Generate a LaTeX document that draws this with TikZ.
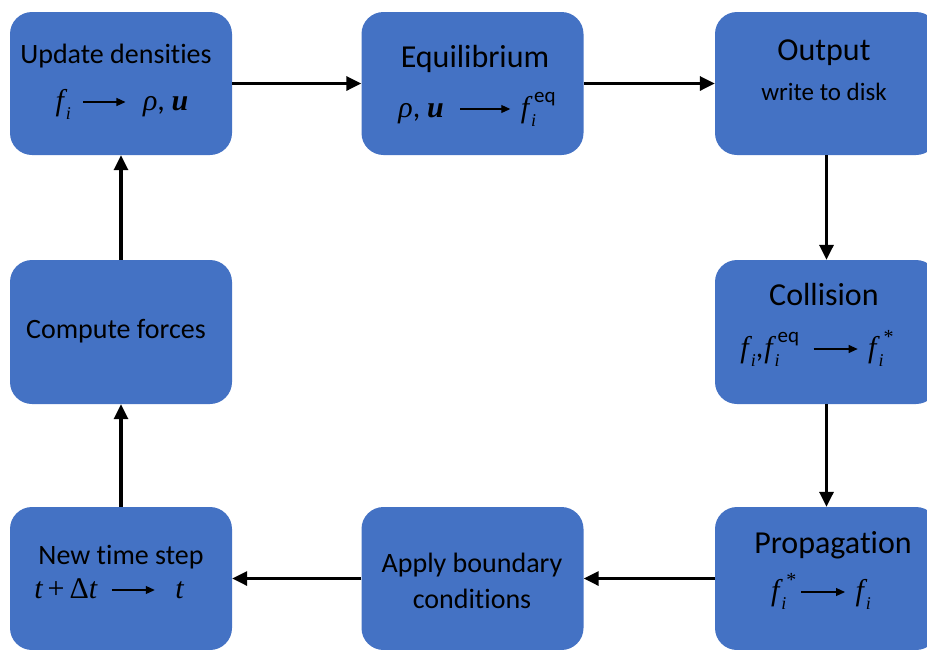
\documentclass[tikz,border=0pt]{standalone}
\usepackage{fontspec}
\setmainfont[Ligatures=NoCommon]{Carlito}
\newfontfamily\tms{Liberation Serif}
\usetikzlibrary{arrows.meta}
\definecolor{boxblue}{HTML}{4472C4}
\newcommand{\fsb}[1]{{\tms\itshape f\kern2pt\raisebox{-0.3em}{\fontsize{18}{18}\selectfont #1}}}
\newcommand{\feq}[1]{{\tms\itshape f\kern2pt\rlap{\raisebox{-0.3em}{\fontsize{18}{18}\selectfont i}}\kern3pt\raisebox{0.5em}{\rmfamily\upshape\fontsize{21}{21}\selectfont #1}}}
\newcommand{\fst}{{\tms\itshape f\kern2pt\rlap{\raisebox{-0.3em}{\fontsize{18}{18}\selectfont i}}\kern5pt\raisebox{0.45em}{\upshape\fontsize{20}{20}\selectfont *}}}
\newcommand{\marr}[1]{\tikz[baseline={(0pt,-8pt)}]\draw[line width=1.1pt,-{Triangle[length=9pt,width=8pt]}] (0pt,0pt)--(#1,0pt);}
\newcommand{\bu}{{\tms\bfseries\itshape u}}
\newcommand{\rh}{{\tms\itshape ρ}}
\begin{document}
\begin{tikzpicture}[x=1pt,y=-1pt,
  box/.style={fill=boxblue,rounded corners=22pt,minimum width=222pt,minimum height=143pt,inner sep=0pt},
  ttl/.style={anchor=base,inner sep=0pt,font=\fontsize{32}{36}\selectfont},
  sttl/.style={anchor=base,inner sep=0pt,font=\fontsize{28}{31}\selectfont},
  mth/.style={anchor=base,inner sep=0pt,font=\fontsize{30}{33}\selectfont},
  flow/.style={line width=3.2pt,-{Triangle[length=15pt,width=14pt]}}]
\useasboundingbox (0,0) rectangle (927,649);
\clip (0,0) rectangle (927,649);
\node[box] (tl) at (121,83.5) {};
\node[box] (tm) at (472.5,83.5) {};
\node[box,minimum width=223pt] (tr) at (826.5,83.5) {};
\node[box,minimum height=144pt] (ml) at (121,332) {};
\node[box,minimum width=223pt,minimum height=144pt] (mr) at (826.5,332) {};
\node[box] (bl) at (121,578.5) {};
\node[box] (bm) at (472.5,578.5) {};
\node[box,minimum width=223pt] (br) at (826.5,578.5) {};
% texts
\node[sttl] (t1) at (116,63) {Update densities};
\node[mth] (m1) at (122,110) {\fsb{i}\hspace{12pt}\marr{42pt}\hspace{17pt}\rh, \bu};
\node[ttl] (t2) at (475,67) {Equilibrium};
\node[mth] (m2) at (477,117) {\rh, \bu\hspace{16pt}\marr{50pt}\hspace{10pt}\feq{eq}};
\node[ttl] (t3) at (824,60) {Output};
\node[font=\fontsize{25}{28}\selectfont,anchor=base,inner sep=0pt] (s3) at (824,100) {write to disk};
\node[ttl] (t4) at (824,305) {Collision};
\node[mth] (m4) at (817,357) {\fsb{i},\kern1pt\feq{eq}\hspace{14pt}\marr{44pt}\hspace{10pt}\fst};
\node[sttl] (t5) at (116,338) {Compute forces};
\node[sttl] (t6) at (121,564) {New time step};
\node[mth] (m6) at (109,598) {{\tms\itshape t}\,{\tms +}\,{\tms Δ\itshape t}\hspace{14pt}\marr{43pt}\hspace{20pt}{\tms\itshape t}};
\node[sttl] (t7) at (472,572) {Apply boundary};
\node[sttl] (t7b) at (472,608) {conditions};
\node[ttl] (t8) at (833,553) {Propagation};
\node[mth] (m8) at (821,600) {\fst\hspace{4pt}\marr{44pt}\hspace{10pt}\fsb{i}};
% flow
\draw[flow] (tl.east) -- (tm.west);
\draw[flow] (tm.east) -- (tr.west);
\draw[flow] (tr.south) -- (mr.north);
\draw[flow] (mr.south) -- (br.north);
\draw[flow] (br.west) -- (bm.east);
\draw[flow] (bm.west) -- (bl.east);
\draw[flow] (bl.north) -- (ml.south);
\draw[flow] (ml.north) -- (tl.south);
\end{tikzpicture}
\end{document}
